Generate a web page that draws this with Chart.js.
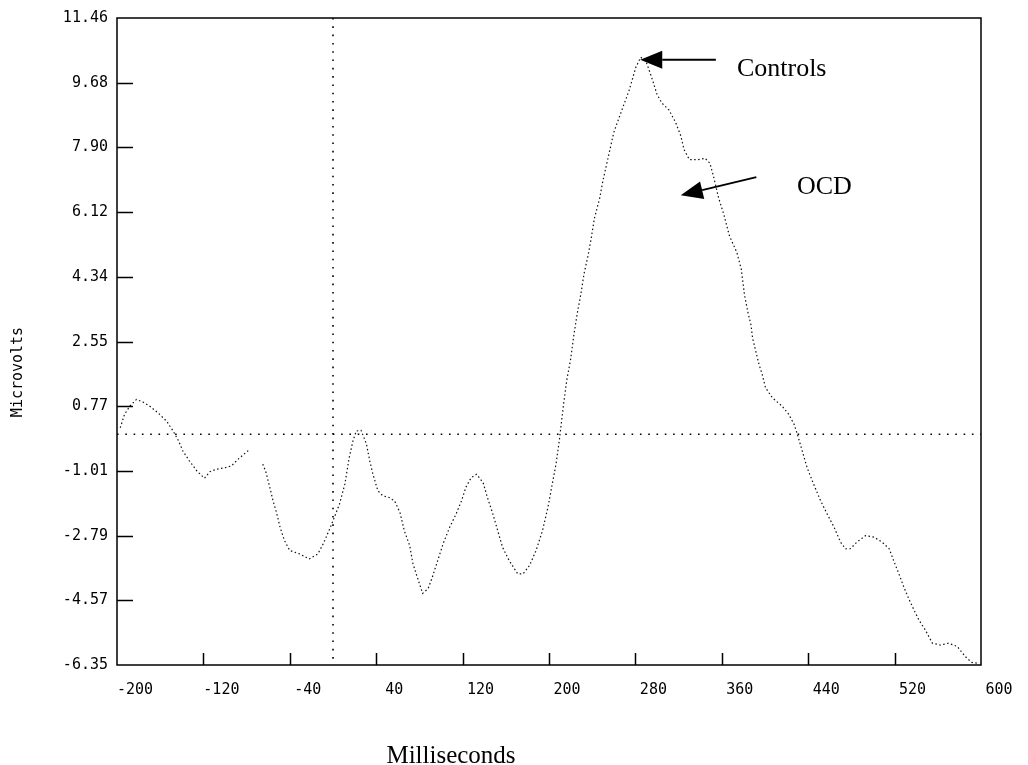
<!DOCTYPE html>
<html lang="en">
<head>
<meta charset="UTF-8" />
<title>Microvolts by Milliseconds</title>
<script src="https://cdn.jsdelivr.net/npm/chart.js"></script>
<style>
  body { margin: 0; background: #fff; }
  #wrap { width: 1028px; height: 765px; }
</style>
</head>
<body>
<div id="wrap"><canvas id="erpChart" width="1028" height="765"></canvas></div>
<script>
// waveform (ms, microvolts); null = gap in the trace
const times = [
  -197, -193, -188, -182, -176, -170, -162, -154, -148, -143, -139, -133, -126, -119, -114, -108, -100, -94, -88, -77,
  -71,
  -65, -62, -58.5, -55.5, -52, -49, -45, -40, -31, -22, -14, -9, -5, 0, 6, 11, 15, 18.5, 21.5, 26,
  31, 34, 37, 41.5, 46, 52, 57, 62, 66, 71, 74, 79, 83, 88, 92, 97, 102, 108, 114, 119,
  123, 128, 133, 139, 143, 148, 152.5, 157, 163, 171, 176, 182, 188, 194, 199, 203, 206.5, 209.5, 211,
  213.5, 216.5, 220, 223, 226, 229.5, 232.5, 236, 239, 242, 247, 250, 255, 260, 268, 274, 280.5, 285,
  290, 295, 300, 304.5, 311, 317, 322, 325, 330, 338, 344.5, 349, 352.5, 357, 362, 367, 374, 378,
  381, 384, 387, 388.5, 391.5, 394.5, 397.5, 400.5, 407, 416, 422, 427, 430, 434.5, 439, 445, 451.5, 457.5,
  464, 470, 474.5, 479, 485, 493, 501, 508.5, 515, 519, 524, 528.5, 533, 538, 542.5, 548.5, 555, 562.5,
  570, 578, 585.5, 591.5, 597
];
const microvolts = [
  0.18, 0.55, 0.78, 0.96, 0.89, 0.78, 0.59, 0.36, 0.09, -0.18, -0.46, -0.73, -1.01, -1.21, -1.03, -0.96, -0.92, -0.87, -0.69, -0.41,
  null,
  -0.82, -1.05, -1.46, -1.83, -2.19, -2.56, -2.92, -3.20, -3.29, -3.43, -3.29, -3.01, -2.74, -2.38, -1.92, -1.37, -0.64, -0.18, 0.09, 0.11,
  -0.27, -0.73, -1.10, -1.55, -1.69, -1.74, -1.83, -2.15, -2.65, -3.06, -3.56, -4.02, -4.38, -4.25, -3.93, -3.47, -3.01, -2.56, -2.19, -1.83,
  -1.46, -1.19, -1.10, -1.33, -1.74, -2.19, -2.65, -3.11, -3.47, -3.84, -3.84, -3.61, -3.20, -2.65, -2.01, -1.37, -0.82, -0.18, 0.20,
  0.83, 1.50, 2.06, 2.73, 3.30, 3.86, 4.43, 4.90, 5.38, 5.94, 6.51, 6.99, 7.65, 8.31, 8.97, 9.45, 10.11, 10.38,
  10.25, 9.83, 9.36, 9.12, 8.93, 8.60, 8.22, 7.84, 7.56, 7.56, 7.60, 7.46, 7.08, 6.51, 6.04, 5.47, 5.00, 4.55,
  3.84, 3.38, 3.01, 2.65, 2.28, 1.92, 1.64, 1.28, 1.00, 0.77, 0.55, 0.27, 0.00, -0.46, -0.92, -1.37, -1.83, -2.19,
  -2.56, -2.97, -3.15, -3.15, -2.97, -2.79, -2.83, -2.97, -3.15, -3.47, -3.84, -4.20, -4.52, -4.84, -5.11, -5.39, -5.75, -5.80,
  -5.75, -5.84, -6.12, -6.28, -6.30
];

const xTicks = [-200, -120, -40, 40, 120, 200, 280, 360, 440, 520, 600];
const yTicks = [-6.35, -4.57, -2.79, -1.01, 0.77, 2.55, 4.34, 6.12, 7.90, 9.68, 11.46];
const yTickLabels = ["-6.35", "-4.57", "-2.79", "-1.01", "0.77", "2.55", "4.34", "6.12", "7.90", "9.68", "11.46"];

// arrow labels, anchored in data units
const noteLabels = ["Controls", "OCD"];
const noteTips = [[284.5, 10.31], [322, 6.58]];
const noteTails = [[354.5, 10.31], [392, 7.08]];
const noteTextAt = [[374, 9.87], [429.6, 6.61]];

const mono = '"DejaVu Sans Mono", monospace';
const serif = '"Liberation Serif", "Times New Roman", serif';

function arrow(ctx, x0, y0, x1, y1) {
  const ang = Math.atan2(y1 - y0, x1 - x0);
  const len = 22, half = 9;
  const bx = x1 - len * Math.cos(ang), by = y1 - len * Math.sin(ang);
  ctx.beginPath();
  ctx.moveTo(x0, y0);
  ctx.lineTo(bx, by);
  ctx.lineWidth = 2;
  ctx.stroke();
  ctx.beginPath();
  ctx.moveTo(x1, y1);
  ctx.lineTo(bx + half * Math.sin(ang), by - half * Math.cos(ang));
  ctx.lineTo(bx - half * Math.sin(ang), by + half * Math.cos(ang));
  ctx.closePath();
  ctx.fill();
}

const framePlugin = {
  id: "frame",
  beforeDatasetsDraw(chart) {
    const { ctx, chartArea: a, scales: { x, y } } = chart;
    ctx.save();
    ctx.strokeStyle = "#000";
    ctx.lineWidth = 1.6;
    ctx.setLineDash([1.6, 6.7]);
    const zx = x.getPixelForValue(0), zy = y.getPixelForValue(0);
    ctx.beginPath();
    ctx.moveTo(a.left, zy); ctx.lineTo(a.right, zy);
    ctx.moveTo(zx, a.top); ctx.lineTo(zx, a.bottom);
    ctx.stroke();
    ctx.restore();
  },
  afterDraw(chart) {
    const { ctx, chartArea: a, scales: { x, y } } = chart;
    ctx.save();
    ctx.strokeStyle = "#000";
    ctx.fillStyle = "#000";
    ctx.lineWidth = 1.5;
    ctx.strokeRect(a.left, a.top, a.right - a.left, a.bottom - a.top);

    // tick marks point inward
    ctx.beginPath();
    xTicks.forEach((v) => {
      if (v <= x.min || v >= x.max) return;
      const px = Math.round(x.getPixelForValue(v)) + 0.5;
      ctx.moveTo(px, a.bottom); ctx.lineTo(px, a.bottom - 12);
    });
    yTicks.forEach((v) => {
      if (v <= y.min || v >= y.max) return;
      const py = Math.round(y.getPixelForValue(v)) + 0.5;
      ctx.moveTo(a.left, py); ctx.lineTo(a.left + 16, py);
    });
    ctx.stroke();

    // axis titles
    ctx.font = "15px " + mono;
    ctx.textAlign = "center";
    ctx.textBaseline = "middle";
    ctx.save();
    ctx.translate(18, 372);
    ctx.rotate(-Math.PI / 2);
    ctx.fillText("Microvolts", 0, 0);
    ctx.restore();

    ctx.font = "25px " + serif;
    ctx.textBaseline = "alphabetic";
    ctx.fillText("Milliseconds", 451, 763);

    // arrows and labels
    ctx.textAlign = "left";
    ctx.font = "26px " + serif;
    noteLabels.forEach((label, i) => {
      arrow(ctx,
        x.getPixelForValue(noteTails[i][0]), y.getPixelForValue(noteTails[i][1]),
        x.getPixelForValue(noteTips[i][0]), y.getPixelForValue(noteTips[i][1]));
      ctx.fillText(label, x.getPixelForValue(noteTextAt[i][0]), y.getPixelForValue(noteTextAt[i][1]));
    });
    ctx.restore();
  }
};

new Chart(document.getElementById("erpChart").getContext("2d"), {
  type: "line",
  data: {
    datasets: [{
      data: times.map((t, i) => ({ x: t, y: microvolts[i] })),
      borderColor: "#111",
      borderWidth: 1.2,
      borderDash: [1.5, 2.5],
      pointRadius: 0,
      tension: 0,
      spanGaps: false
    }]
  },
  options: {
    responsive: false,
    animation: false,
    layout: { padding: { top: 15, right: 47, left: 0, bottom: 0 } },
    plugins: { legend: { display: false }, tooltip: { enabled: false } },
    scales: {
      x: {
        type: "linear",
        min: -200,
        max: 600,
        afterBuildTicks: (s) => { s.ticks = xTicks.map((v) => ({ value: v })); },
        afterFit: (s) => { s.height = 100; },
        grid: { display: false, drawTicks: false },
        border: { display: false },
        ticks: {
          autoSkip: false,
          maxRotation: 0,
          labelOffset: 18,
          padding: 16,
          color: "#000",
          font: { family: mono, size: 15 },
          callback: (v) => String(v)
        }
      },
      y: {
        min: -6.35,
        max: 11.46,
        afterBuildTicks: (s) => { s.ticks = yTicks.map((v) => ({ value: v })); },
        afterFit: (s) => { s.width = 117; },
        grid: { display: false, drawTicks: false },
        border: { display: false },
        ticks: {
          autoSkip: false,
          padding: 9,
          color: "#000",
          font: { family: mono, size: 15 },
          callback: (v, i) => yTickLabels[i]
        }
      }
    }
  },
  plugins: [framePlugin]
});
</script>
</body>
</html>
